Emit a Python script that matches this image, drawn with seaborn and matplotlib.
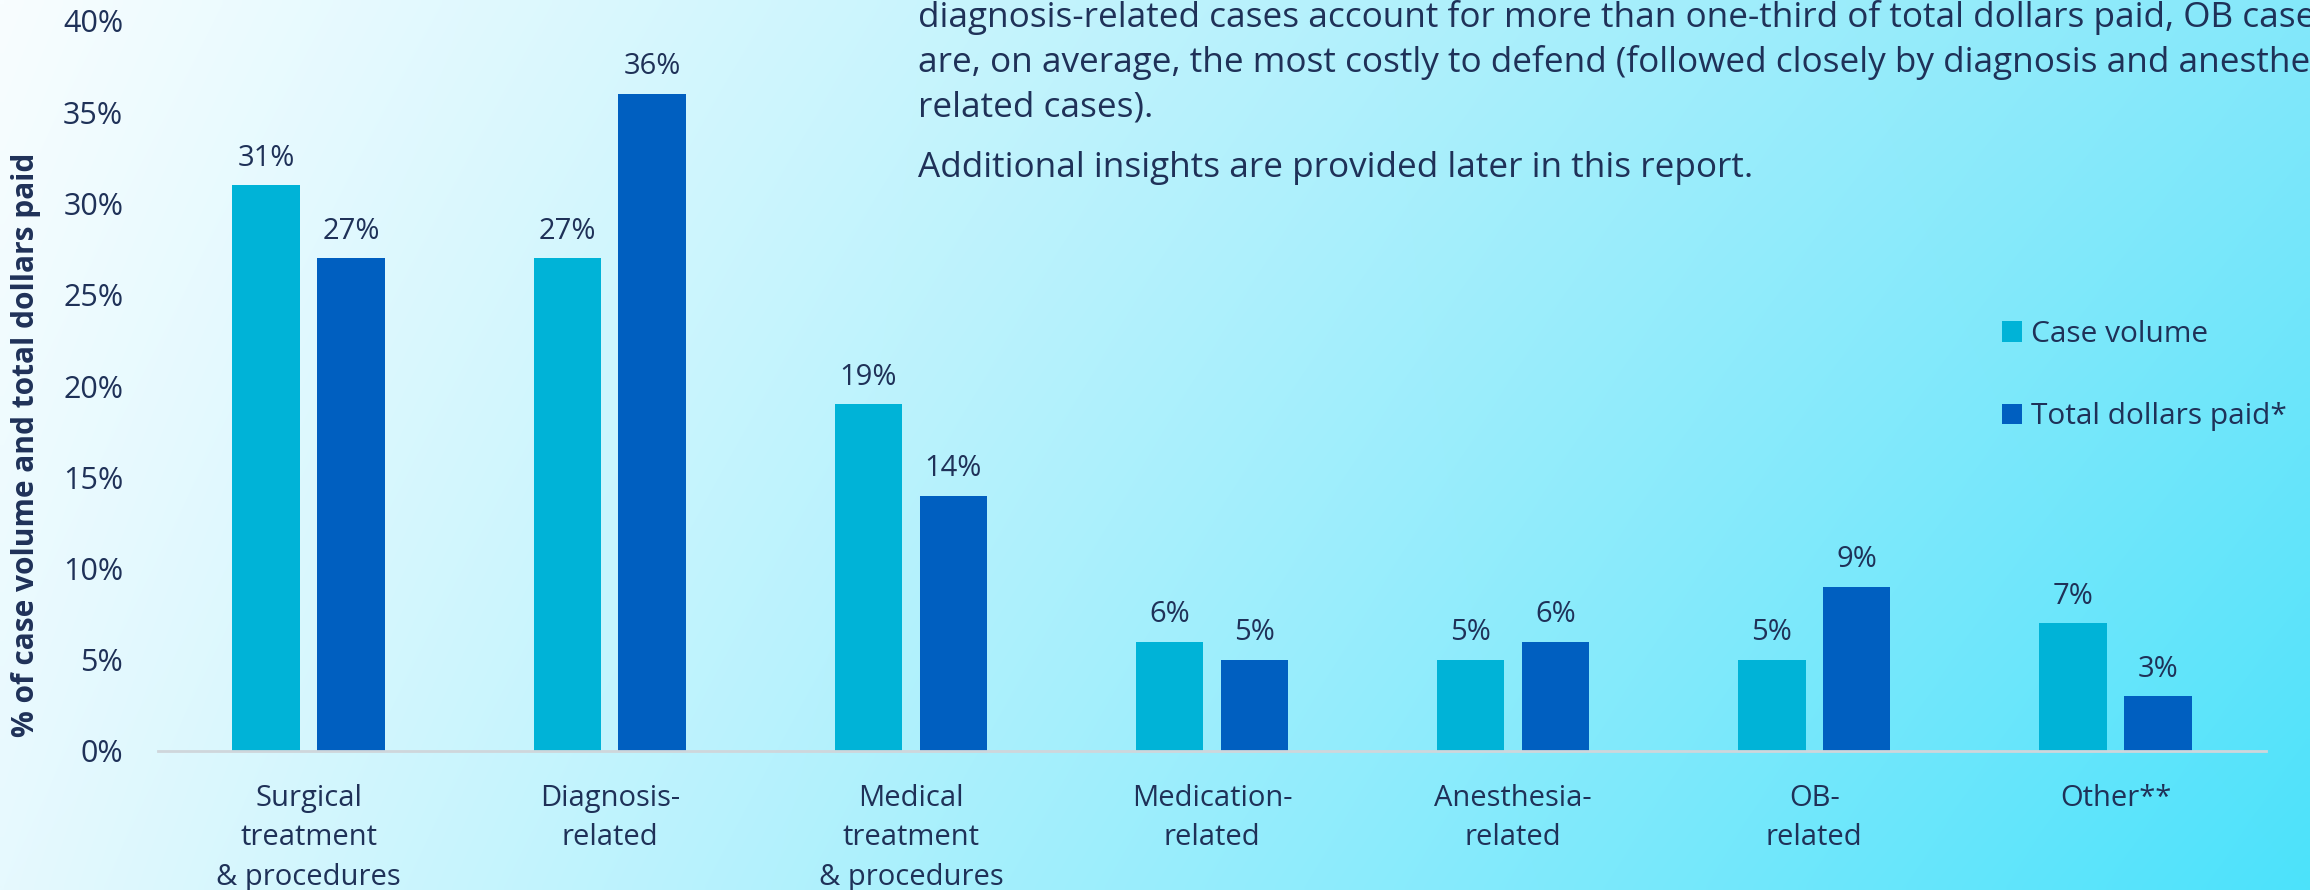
import matplotlib
matplotlib.use("Agg")
import matplotlib.pyplot as plt
import numpy as np
import pandas as pd
import seaborn as sns

# Data
categories = ["Surgical\ntreatment\n& procedures", "Diagnosis-\nrelated",
              "Medical\ntreatment\n& procedures", "Medication-\nrelated",
              "Anesthesia-\nrelated", "OB-\nrelated", "Other**"]
case_volume = [31, 27, 19, 6, 5, 5, 7]
dollars_paid = [27, 36, 14, 5, 6, 9, 3]
series_names = ["Case volume", "Total dollars paid*"]
y_ticks = [0, 5, 10, 15, 20, 25, 30, 35, 40]

paragraph = [
    "diagnosis-related cases account for more than one-third of total dollars paid, OB cases",
    "are, on average, the most costly to defend (followed closely by diagnosis and anesthesia-",
    "related cases).",
    "Additional insights are provided later in this report.",
]

NAVY = "#1f3158"
COLORS = ["#00b3d7", "#005fc0"]

sns.set_theme(style="white")
plt.rcParams["font.family"] = ["Open Sans", "DejaVu Sans"]

df = pd.DataFrame({
    "category": categories * 2,
    "pct": case_volume + dollars_paid,
    "series": [series_names[0]] * len(categories) + [series_names[1]] * len(categories),
})

W, H = 2310, 890
fig = plt.figure(figsize=(W / 100, H / 100), dpi=100)

# diagonal background gradient, white top-left to cyan bottom-right
bg = fig.add_axes([0, 0, 1, 1], zorder=0)
tl = np.array([0xf8, 0xfd, 0xff]) / 255
tr = np.array([0x84, 0xe8, 0xfa]) / 255
bl = np.array([0xe6, 0xf9, 0xfe]) / 255
br = np.array([0x4c, 0xe2, 0xfb]) / 255
xx, yy = np.meshgrid(np.linspace(0, 1, 300), np.linspace(0, 1, 120))
xx = xx[..., None]
yy = yy[..., None]
grad = (1 - xx) * (1 - yy) * tl + xx * (1 - yy) * tr + (1 - xx) * yy * bl + xx * yy * br
bg.imshow(grad, aspect="auto", extent=[0, 1, 0, 1], interpolation="bilinear")
bg.axis("off")

ax = fig.add_axes([158 / W, 1 - 751 / H, (2266 - 158) / W, (751 - 21) / H], zorder=1)
ax.patch.set_alpha(0)

sns.barplot(data=df, x="category", y="pct", hue="series", palette=COLORS,
            saturation=1, width=0.564, gap=0.206, linewidth=0, ax=ax)

for cont in ax.containers:
    ax.bar_label(cont, labels=[f"{v:.0f}%" for v in cont.datavalues],
                 padding=9, fontsize=21, color=NAVY)

ax.set_ylim(0, 40)
ax.set_xlim(-0.5, 6.5)
ax.set_yticks(y_ticks)
ax.set_yticklabels([f"{v}%" for v in y_ticks])
ax.tick_params(axis="y", length=0, pad=25, labelsize=22, labelcolor=NAVY)
ax.tick_params(axis="x", length=0, pad=24, labelsize=21, labelcolor=NAVY)
for lbl in ax.get_xticklabels():
    lbl.set_linespacing(1.46)

ax.set_xlabel("")
ax.set_ylabel("% of case volume and total dollars paid", fontsize=21.5,
              fontweight="bold", color=NAVY)
ax.yaxis.set_label_coords(-0.0555, 0.42)

for s in ["top", "right", "left"]:
    ax.spines[s].set_visible(False)
ax.spines["bottom"].set_color("#cfd6db")
ax.spines["bottom"].set_linewidth(2)

handles, labels = ax.get_legend_handles_labels()
ax.legend(handles, labels, loc="upper left", bbox_to_anchor=(2002 / W, 1 - 320 / H),
          bbox_transform=fig.transFigure, frameon=False, fontsize=21.5,
          handlelength=0.66, handleheight=0.66, handletextpad=0.3,
          labelspacing=1.78, borderpad=0, borderaxespad=0, labelcolor=NAVY)

baselines = [27, 72, 117, 177]
for txt, yb in zip(paragraph, baselines):
    fig.text(918 / W, 1 - yb / H, txt, fontsize=25.3, color=NAVY, va="baseline", ha="left")

fig.savefig("out.png", dpi=100)
